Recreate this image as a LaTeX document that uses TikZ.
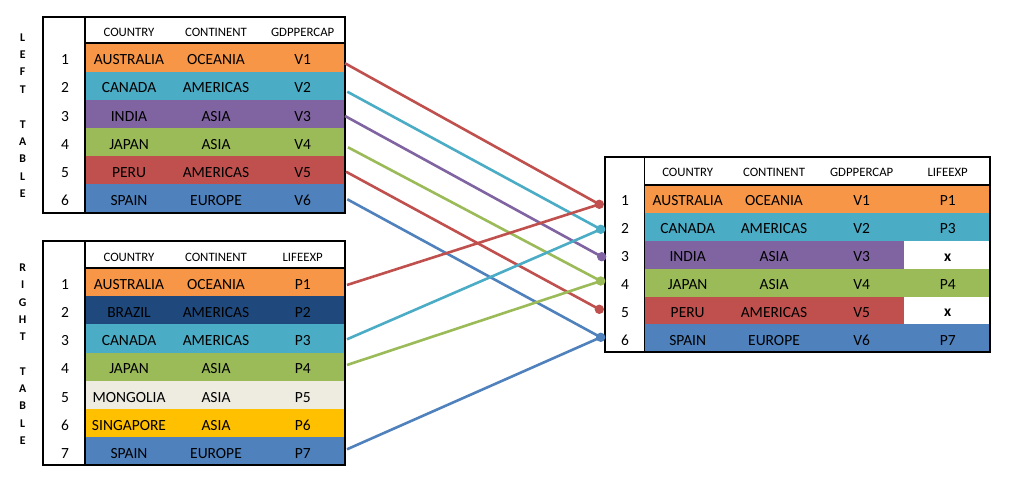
\documentclass[tikz,border=0pt]{standalone}
\usepackage{fontspec}
\setmainfont{Carlito}
\definecolor{cOrange}{HTML}{F79646}
\definecolor{cCyan}{HTML}{4BACC6}
\definecolor{cPurple}{HTML}{8064A2}
\definecolor{cGreen}{HTML}{9BBB59}
\definecolor{cRed}{HTML}{C0504D}
\definecolor{cBlue}{HTML}{4F81BD}
\definecolor{cNavy}{HTML}{1F497D}
\definecolor{cBeige}{HTML}{EEECE1}
\definecolor{cGold}{HTML}{FFC000}
\begin{document}
\begin{tikzpicture}[x=1pt,y=-1pt,
  cell/.style={font=\fontsize{15.5}{16}\selectfont, text=black, inner sep=0pt},
  hdr/.style={font=\fontsize{12.8}{13}\selectfont, text=black, inner sep=0pt},
  side/.style={font=\fontsize{11.8}{12}\selectfont\bfseries, text=black, inner sep=0pt},
  xmark/.style={font=\fontsize{15.5}{16}\selectfont\bfseries, text=black, inner sep=0pt},
  frame/.style={line width=2.3pt, draw=black},
  sep/.style={line width=1.2pt, draw=black},
  hline/.style={line width=2pt, draw=black},
  conn/.style={line width=2.6pt},
  dot/.style={radius=4.7pt}]
\useasboundingbox[fill=white] (0,0) rectangle (1015,486);

% ---------------- LEFT TABLE ----------------
\foreach \n/\c/\v/\col [count=\i] in {AUSTRALIA/OCEANIA/V1/cOrange, CANADA/AMERICAS/V2/cCyan, INDIA/ASIA/V3/cPurple, JAPAN/ASIA/V4/cGreen, PERU/AMERICAS/V5/cRed, SPAIN/EUROPE/V6/cBlue}{
  \pgfmathsetmacro\ya{43.3+(\i-1)*28.23}
  \fill[\col] (85,\ya) rectangle (345,\ya+28.23);
  \node[cell] (L\i i) at (65,\ya+16.3) {\i};
  \node[cell] (L\i n) at (129,\ya+16.3) {\n};
  \node[cell] (L\i c) at (216,\ya+16.3) {\c};
  \node[cell] (L\i v) at (302.7,\ya+16.3) {\v};
}
\node[hdr] (Lh1) at (129,32.3) {COUNTRY};
\node[hdr] (Lh2) at (216,32.3) {CONTINENT};
\node[hdr] (Lh3) at (302.7,32.3) {GDPPERCAP};
\draw[sep] (85,16.7) -- (85,212.7);
\draw[hline] (85,43.3) -- (345,43.3);
\draw[frame] (43.3,16.7) rectangle (345,212.7);

\foreach \k/\ch in {0/L,1/E,2/F,3/T,5/T,6/A,7/B,8/L,9/E}{
  \node[side] (ls\k) at (22.7,37.2+\k*17.4) {\ch};
}

% ---------------- RIGHT TABLE ----------------
\foreach \n/\c/\v/\col [count=\i] in {AUSTRALIA/OCEANIA/P1/cOrange, BRAZIL/AMERICAS/P2/cNavy, CANADA/AMERICAS/P3/cCyan, JAPAN/ASIA/P4/cGreen, MONGOLIA/ASIA/P5/cBeige, SINGAPORE/ASIA/P6/cGold, SPAIN/EUROPE/P7/cBlue}{
  \pgfmathsetmacro\ya{268.3+(\i-1)*28.1}
  \fill[\col] (85,\ya) rectangle (345,\ya+28.1);
  \node[cell] (R\i i) at (65,\ya+16.4) {\i};
  \node[cell] (R\i n) at (129,\ya+16.4) {\n};
  \node[cell] (R\i c) at (216,\ya+16.4) {\c};
  \node[cell] (R\i v) at (302.7,\ya+16.4) {\v};
}
\node[hdr] (Rh1) at (129,257.3) {COUNTRY};
\node[hdr] (Rh2) at (216,257.3) {CONTINENT};
\node[hdr] (Rh3) at (302.7,257.3) {LIFEEXP};
\draw[sep] (85,241) -- (85,465);
\draw[hline] (85,268.3) -- (345,268.3);
\draw[frame] (43.3,241) rectangle (345,465);

\foreach \k/\ch in {0/R,1/I,2/G,3/H,4/T,6/T,7/A,8/B,9/L,10/E}{
  \node[side] (rs\k) at (22.7,267.8+\k*17.27) {\ch};
}

% ---------------- RESULT TABLE ----------------
\foreach \n/\c/\v/\col/\pc [count=\i] in {AUSTRALIA/OCEANIA/V1/cOrange/cOrange, CANADA/AMERICAS/V2/cCyan/cCyan, INDIA/ASIA/V3/cPurple/white, JAPAN/ASIA/V4/cGreen/cGreen, PERU/AMERICAS/V5/cRed/white, SPAIN/EUROPE/V6/cBlue/cBlue}{
  \pgfmathsetmacro\ya{185+(\i-1)*27.88}
  \fill[\col] (644.3,\ya) rectangle (904,\ya+27.88);
  \fill[\pc] (904,\ya) rectangle (990,\ya+27.88);
  \node[cell] (J\i i) at (625,\ya+16) {\i};
  \node[cell] (J\i n) at (687.7,\ya+16) {\n};
  \node[cell] (J\i c) at (774,\ya+16) {\c};
  \node[cell] (J\i v) at (861.7,\ya+16) {\v};
}
\node[cell] (J1p) at (947.7,201) {P1};
\node[cell] (J2p) at (947.7,228.9) {P3};
\node[xmark] (J3p) at (947.7,257.5) {x};
\node[cell] (J4p) at (947.7,284.7) {P4};
\node[xmark] (J5p) at (947.7,313.2) {x};
\node[cell] (J6p) at (947.7,340.5) {P7};
\node[hdr] (Jh1) at (687.7,172.5) {COUNTRY};
\node[hdr] (Jh2) at (774,172.5) {CONTINENT};
\node[hdr] (Jh3) at (861.7,172.5) {GDPPERCAP};
\node[hdr] (Jh4) at (947.7,172.5) {LIFEEXP};
\draw[sep] (644.3,156.7) -- (644.3,352.3);
\draw[hline] (644.3,185) -- (990,185);
\draw[frame] (605,156.7) rectangle (990,352.3);

% ---------------- CONNECTORS ----------------
\coordinate (a1) at (345,63.3);
\coordinate (a2) at (347.3,91.7);
\coordinate (a3) at (345,116);
\coordinate (a4) at (348,147.3);
\coordinate (a5) at (346,171.7);
\coordinate (a6) at (347.3,199.3);
\coordinate (b1) at (347,285);
\coordinate (b3) at (347,339.3);
\coordinate (b4) at (347,365);
\coordinate (b7) at (347,449.3);
\coordinate (e1) at (599.3,204.3);
\coordinate (e2) at (600.7,229.3);
\coordinate (e3) at (601.7,256.7);
\coordinate (e4) at (600.7,281);
\coordinate (e5) at (599.3,309.3);
\coordinate (e6) at (600.7,337.3);

\draw[conn,cRed] (a1) -- (e1);
\draw[conn,cCyan] (a2) -- (e2);
\draw[conn,cPurple] (a3) -- (e3);
\draw[conn,cGreen] (a4) -- (e4);
\draw[conn,cRed] (a5) -- (e5);
\draw[conn,cBlue] (a6) -- (e6);
\draw[conn,cRed] (b1) -- (e1);
\draw[conn,cCyan] (b3) -- (e2);
\draw[conn,cGreen] (b4) -- (e4);
\draw[conn,cBlue] (b7) -- (e6);

\fill[cRed] (e1) circle[dot];
\fill[cCyan] (e2) circle[dot];
\fill[cPurple] (e3) circle[dot];
\fill[cGreen] (e4) circle[dot];
\fill[cRed] (e5) circle[dot];
\fill[cBlue] (e6) circle[dot];
\end{tikzpicture}
\end{document}
